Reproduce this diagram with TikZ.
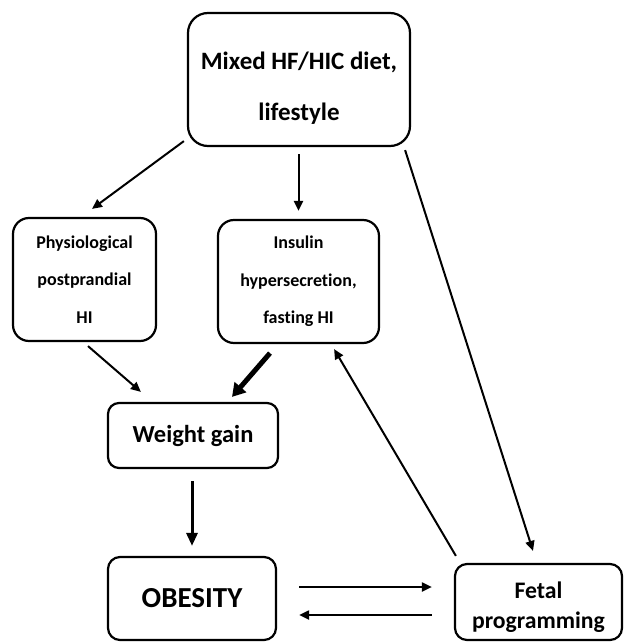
\documentclass[tikz,border=0pt]{standalone}
\usepackage{fontspec}
\setmainfont{Carlito}[Ligatures={NoCommon}]
\usetikzlibrary{arrows.meta,calc}
\begin{document}
\begin{tikzpicture}[x=1pt,y=-1pt,
  box/.style={draw,line width=2.2pt,rounded corners=#1,inner sep=0pt,align=center},
  box/.default=14pt,
  arr/.style={line width=2pt,-{Triangle[length=10pt,width=9pt]}},
  thickarr/.style={line width=5pt,-{Triangle[length=13pt,width=15pt]}},
  medarr/.style={line width=3pt,-{Triangle[length=13pt,width=11pt]}},
  fA/.style={font=\bfseries\fontsize{25}{51}\selectfont},
  fB/.style={font=\bfseries\fontsize{18}{37.5}\selectfont},
  fC/.style={font=\bfseries\fontsize{24.5}{28}\selectfont},
  fD/.style={font=\bfseries\fontsize{29}{32}\selectfont},
  fE/.style={font=\bfseries\fontsize{23.7}{30}\selectfont}]
\useasboundingbox (0,0) rectangle (636,643);
% boxes
\node[box=20pt,minimum width=222pt,minimum height=133pt] (top) at (299,79.5) {};
\node[fA,align=center] (toptext) at (299,88) {Mixed HF/HIC diet,\\lifestyle};
\node[box=16pt,fB,minimum width=143pt,minimum height=123pt] (phys) at (84.5,279.5) {Physiological\\postprandial\\HI};
\node[box=16pt,fB,minimum width=161pt,minimum height=123pt] (ins) at (298.5,281.5) {Insulin\\hypersecretion,\\fasting HI};
\node[box=11pt,fC,minimum width=170pt,minimum height=65pt] (weight) at (193,435.5) {Weight gain};
\node[box=12pt,fD,minimum width=168pt,minimum height=83pt] (obes) at (192,598.5) {\raisebox{-3pt}{OBESITY}};
\node[box=12pt,minimum width=167pt,minimum height=76pt] (fetal) at (538.5,602) {};
\node[fE,align=center] (fetaltext) at (538.5,607) {Fetal\\programming};
% connectors
\draw[arr] ($(top.south west)+(-3,-6)$) -- ($(phys.north)+(7.5,-8)$);
\draw[arr] ($(top.south)+(-0.5,7)$) -- ($(ins.north)+(0,-8)$);
\draw[arr] ($(top.south east)+(-6,3)$) -- ($(fetal.north)+(-5.5,-12)$);
\draw[arr] ($(phys.south)+(3.5,4)$) -- ($(weight.north west)+(34,-10)$);
\draw[thickarr] ($(ins.south)+(-28.5,9)$) -- ($(weight.north)+(39,-5)$);
\draw[medarr] ($(weight.south)+(-1,12)$) -- ($(obes.north)+(0,-10)$);
\draw[arr] ($(obes.east)+(22,-11.5)$) -- ($(fetal.west)+(-22,-15)$);
\draw[arr] ($(fetal.west)+(-22,13)$) -- ($(obes.east)+(22,16.5)$);
\draw[arr] ($(fetal.north west)+(2,-7)$) -- ($(ins.south east)+(-46,5)$);
\end{tikzpicture}
\end{document}
